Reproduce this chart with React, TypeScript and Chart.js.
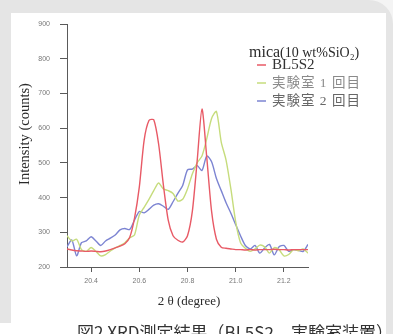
import React, { useEffect, useRef } from 'react';
import { Chart, registerables } from 'chart.js';

Chart.register(...registerables);

// 2θ (degree) sampling positions
const twoTheta = [
  20.30, 20.32, 20.34, 20.36, 20.38, 20.40, 20.42, 20.44, 20.46, 20.48,
  20.50, 20.52, 20.54, 20.56, 20.58, 20.60, 20.62, 20.64, 20.66, 20.68,
  20.70, 20.72, 20.74, 20.76, 20.78, 20.80, 20.82, 20.84, 20.86, 20.88,
  20.90, 20.92, 20.94, 20.96, 20.98, 21.00, 21.02, 21.04, 21.06, 21.08,
  21.10, 21.12, 21.14, 21.16, 21.18, 21.20, 21.22, 21.24, 21.26, 21.28,
  21.30,
];

// Intensity (counts)
const bl5s2 = [
  252, 249, 247, 246, 245, 246, 245, 244, 246, 250,
  255, 260, 267, 285, 340, 430, 565, 622, 624, 555,
  436, 335, 290, 277, 272, 290, 360, 505, 655, 515,
  360, 280, 257, 254, 252, 250, 250, 249, 250, 249,
  250, 250, 250, 251, 250, 250, 249, 250, 250, 250,
  250,
];

const lab1 = [
  290, 275, 280, 250, 245, 256, 245, 232, 236, 246,
  255, 262, 270, 284, 292, 350, 372, 395, 420, 442,
  425, 420, 412, 390, 395, 425, 468, 500, 520, 570,
  628, 648, 560, 508, 425, 330, 270, 254, 245, 252,
  263, 258, 240, 256, 250, 232, 236, 250, 247, 252,
  240,
];

const lab2 = [
  258, 278, 232, 270, 275, 287, 275, 262, 275, 283,
  292, 307, 311, 308, 335, 360, 356, 366, 378, 382,
  375, 366, 388, 412, 435, 480, 482, 492, 478, 520,
  503, 455, 420, 385, 355, 322, 290, 262, 252, 262,
  240, 255, 265, 235, 258, 262, 245, 250, 248, 245,
  265,
];

const seriesLabels = ['BL5S2', '実験室 1 回目', '実験室 2 回目'];
const seriesColors = ['#e85a66', '#c6dc7c', '#7c84d2'];
const legendTextColors = ['#333333', '#8a8a8a', '#666666'];
const xTicks = [20.4, 20.6, 20.8, 21.0, 21.2];
const yTicks = [200, 300, 400, 500, 600, 700, 800, 900];
const legendTitleMain = 'mica';
const legendTitleRest = '(10 wt%SiO₂)';
const xTitle = '2 θ (degree)';
const yTitle = 'Intensity (counts)';
const caption = '図2 XRD測定結果（BL5S2、実験室装置）';

const SERIF = '"Liberation Serif", "Noto Sans CJK JP", serif';
const SANS = '"Liberation Sans", Arial, sans-serif';

const overlayPlugin = {
  id: 'overlay',
  afterDraw(chart: any) {
    const ctx = chart.ctx as CanvasRenderingContext2D;
    const ca = chart.chartArea;
    // axis titles
    ctx.save();
    ctx.fillStyle = '#2a2a2a';
    ctx.textAlign = 'center';
    ctx.textBaseline = 'middle';
    ctx.font = `14.5px ${SERIF}`;
    ctx.translate(ca.left - 42, ca.top + 110);
    ctx.rotate(-Math.PI / 2);
    ctx.fillText(yTitle, 0, 0);
    ctx.restore();

    ctx.save();
    ctx.fillStyle = '#2a2a2a';
    ctx.textAlign = 'center';
    ctx.textBaseline = 'middle';
    ctx.font = `13px ${SERIF}`;
    ctx.fillText(xTitle, ca.left + 122, ca.bottom + 35);
    ctx.restore();

    // legend
    ctx.save();
    ctx.textBaseline = 'middle';
    ctx.textAlign = 'left';
    ctx.fillStyle = '#2a2a2a';
    const lx = ca.right - 59;
    const ty = ca.top + 29;
    ctx.font = `16px ${SERIF}`;
    ctx.fillText(legendTitleMain, lx, ty);
    const w = ctx.measureText(legendTitleMain).width;
    ctx.font = `14px ${SERIF}`;
    ctx.fillText(legendTitleRest, lx + w, ty);
    const rows = [ca.top + 41, ca.top + 59, ca.top + 77];
    chart.data.datasets.forEach((ds: any, i: number) => {
      const y = rows[i];
      ctx.strokeStyle = ds.borderColor;
      ctx.lineWidth = 1.5;
      ctx.beginPath();
      ctx.moveTo(lx + 8, y);
      ctx.lineTo(lx + 17, y);
      ctx.stroke();
      ctx.fillStyle = legendTextColors[i];
      if (i === 0) {
        ctx.font = `15px ${SERIF}`;
        (ctx as any).letterSpacing = '0px';
      } else {
        ctx.font = `13.5px ${SERIF}`;
        (ctx as any).letterSpacing = '1px';
      }
      ctx.fillText(ds.label, lx + 23, y);
    });
    (ctx as any).letterSpacing = '0px';
    ctx.restore();
  },
};

export default function App() {
  const ref = useRef<HTMLCanvasElement | null>(null);

  useEffect(() => {
    if (!ref.current) return;
    const makeData = (vals: number[]) => twoTheta.map((x, i) => ({ x, y: vals[i] }));
    const all = [bl5s2, lab1, lab2];
    const chart = new Chart(ref.current, {
      type: 'line',
      data: {
        datasets: all.map((vals, i) => ({
          label: seriesLabels[i],
          data: makeData(vals),
          borderColor: seriesColors[i],
          backgroundColor: seriesColors[i],
          borderWidth: 1.4,
          pointRadius: 0,
          tension: 0.25,
          fill: false,
        })),
      },
      options: {
        animation: false,
        responsive: false,
        devicePixelRatio: 1,
        layout: { padding: { left: 0, top: 24, right: 85, bottom: 0 } },
        plugins: {
          legend: { display: false },
          tooltip: { enabled: false },
          title: { display: false },
        },
        scales: {
          x: {
            type: 'linear',
            min: 20.3,
            max: 21.3,
            afterBuildTicks: (scale: any) => {
              scale.ticks = xTicks.map((v) => ({ value: v }));
            },
            afterFit: (scale: any) => {
              scale.height = 67;
            },
            border: { display: true, color: '#5a5a5a', width: 1 },
            grid: {
              drawOnChartArea: false,
              drawTicks: true,
              tickLength: 5,
              tickColor: '#5a5a5a',
            },
            ticks: {
              color: '#777777',
              font: { size: 7, family: SANS },
              padding: 5,
              maxRotation: 0,
              callback: (v: any) => Number(v).toFixed(1),
            },
          },
          y: {
            type: 'linear',
            min: 200,
            max: 900,
            afterBuildTicks: (scale: any) => {
              scale.ticks = yTicks.map((v) => ({ value: v }));
            },
            afterFit: (scale: any) => {
              scale.width = 67;
            },
            border: { display: true, color: '#5a5a5a', width: 1 },
            grid: {
              drawOnChartArea: false,
              drawTicks: true,
              tickLength: 7,
              tickColor: '#5a5a5a',
            },
            ticks: {
              color: '#777777',
              font: { size: 7, family: SANS },
              padding: 10,
              callback: (v: any) => String(v),
            },
          },
        },
      },
      plugins: [overlayPlugin],
    });
    return () => chart.destroy();
  }, []);

  return (
    <div
      style={{
        position: 'fixed',
        left: 0,
        top: 0,
        width: 393,
        height: 334,
        overflow: 'hidden',
        background: '#f4f4f4',
      }}
    >
      <div
        style={{
          position: 'absolute',
          left: 0,
          top: 0,
          width: 393,
          height: 334,
          background: '#e5e5e5',
          borderTopRightRadius: 24,
        }}
      />
      <div
        style={{
          position: 'absolute',
          left: 11,
          top: 13,
          width: 375,
          height: 340,
          background: '#ffffff',
        }}
      />
      <div
        style={{
          position: 'absolute',
          left: 0,
          top: 323,
          width: 386,
          height: 20,
          background: '#ffffff',
        }}
      />
      <canvas
        ref={ref}
        width={393}
        height={334}
        style={{ position: 'absolute', left: 0, top: 0, width: 393, height: 334 }}
      />
      <div
        style={{
          position: 'absolute',
          left: 77,
          top: 321,
          fontSize: 17,
          lineHeight: '21px',
          fontFamily: '"Noto Sans CJK JP", "Noto Sans", sans-serif',
          color: '#333333',
          whiteSpace: 'nowrap',
        }}
      >
        {caption}
      </div>
    </div>
  );
}
